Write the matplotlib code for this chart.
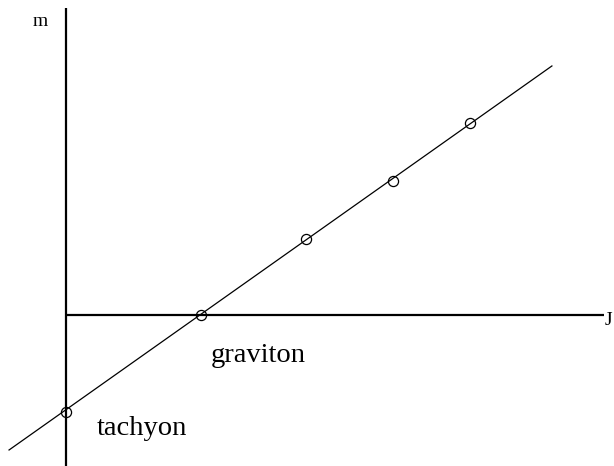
import matplotlib
matplotlib.use("Agg")
import matplotlib.pyplot as plt

# Regge-like trajectory: points (J, m) in arbitrary units
J_points = [0.0, 2.0, 3.56, 4.84, 5.99]
m_points = [-1.0, 0.0, 0.78, 1.38, 1.98]

# straight trajectory line end points
J_line = [-0.844, 7.2]
m_line = [-1.392, 2.567]

labels = ["tachyon", "graviton"]
label_pos = [(0.46, -1.24), (2.15, -0.48)]

fig = plt.figure(figsize=(6.14, 4.66), dpi=100)
ax = fig.add_axes([0, 0, 1, 1])
ax.set_xlim(-0.978, 8.12)
ax.set_ylim(-1.557, 3.247)
ax.axis("off")

serif = ["Liberation Serif", "DejaVu Serif"]

# coordinate axes
ax.plot([0, 0], [-1.557, 3.165], color="black", lw=1.6, solid_capstyle="butt")
ax.plot([0, 7.97], [0, 0], color="black", lw=1.6, solid_capstyle="butt")

# trajectory
ax.plot(J_line, m_line, color="black", lw=0.9)
ax.plot(J_points, m_points, linestyle="none", marker="o", markersize=7.3,
        markerfacecolor="none", markeredgecolor="black", markeredgewidth=0.9)

# axis labels
ax.text(-0.378, 2.98, "m", fontsize=14, family=serif, ha="center", va="baseline")
ax.text(8.09, -0.10, "J", fontsize=14, family=serif, ha="right", va="baseline")

for lab, (x, y) in zip(labels, label_pos):
    ax.text(x, y, lab, fontsize=20.5, family=serif, ha="left", va="baseline")

fig.savefig("out.png", dpi=100)
